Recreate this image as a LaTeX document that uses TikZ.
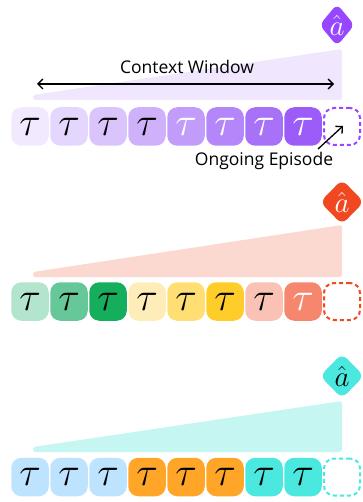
\RequirePackage{fix-cm}
\documentclass[tikz,border=0pt]{standalone}
\usepackage{fontspec}
\setmainfont{Open Sans}
\usetikzlibrary{arrows.meta,shapes.geometric}
\definecolor{pA}{HTML}{F1E9FE}
\definecolor{pB}{HTML}{E5D6FD}
\definecolor{pC}{HTML}{DAC4FC}
\definecolor{pD}{HTML}{CFB1FB}
\definecolor{pE}{HTML}{C29CFA}
\definecolor{pF}{HTML}{B486F9}
\definecolor{pG}{HTML}{A771F8}
\definecolor{pH}{HTML}{9B5CF7}
\definecolor{pMain}{HTML}{9747FF}
\definecolor{pWedge}{HTML}{F0E7FE}
\definecolor{gA}{HTML}{B2E5CC}
\definecolor{gB}{HTML}{66C898}
\definecolor{gC}{HTML}{14AE5C}
\definecolor{yA}{HTML}{FFEDB9}
\definecolor{yB}{HTML}{FFDE73}
\definecolor{yC}{HTML}{FFCD29}
\definecolor{sA}{HTML}{FAC2B5}
\definecolor{sB}{HTML}{F7866E}
\definecolor{rMain}{HTML}{F24822}
\definecolor{rWedge}{HTML}{FBD9D1}
\definecolor{bA}{HTML}{BDE3FF}
\definecolor{oA}{HTML}{FFA629}
\definecolor{cA}{HTML}{4AE8DF}
\definecolor{cWedge}{HTML}{C6F6F2}
\tikzset{
  tok/.style={rectangle, rounded corners=10pt, minimum width=37.5pt, minimum height=38.5pt, inner sep=0pt, font=\fontsize{40}{40}\selectfont},
  slot/.style={rectangle, rounded corners=10pt, minimum width=36pt, minimum height=37pt, inner sep=0pt, draw, line width=2pt, dash pattern=on 4pt off 3pt, fill=white},
  diam/.style={diamond, rounded corners=7pt, minimum width=44pt, minimum height=45pt, inner sep=0pt},
  ahat/.style={font=\fontsize{29}{29}\selectfont, inner sep=0pt},
  lbl/.style={font=\fontsize{17.5}{19}\selectfont, inner sep=0pt},
  wedge/.style={rounded corners=2.5pt},
  arr/.style={line width=1.3pt, -{Straight Barb[angle=90:7pt]}},
}
\begin{document}
\begin{tikzpicture}[x=1pt,y=-1pt]
\useasboundingbox (0,0) rectangle (362,502);
% ---------- Row 1 ----------
\fill[pWedge, wedge] (33,100) -- (33,95) -- (342,49) -- (342,100) -- cycle;
\node[tok, fill=pA] (a1) at (30,126.5) {$\tau$};
\node[tok, fill=pB] (a2) at (69,126.5) {$\tau$};
\node[tok, fill=pC] (a3) at (108,126.5) {$\tau$};
\node[tok, fill=pD] (a4) at (147,126.5) {$\tau$};
\node[tok, fill=pE, text=white] (a5) at (186,126.5) {$\tau$};
\node[tok, fill=pF, text=white] (a6) at (225,126.5) {$\tau$};
\node[tok, fill=pG, text=white] (a7) at (264,126.5) {$\tau$};
\node[tok, fill=pH, text=white] (a8) at (303,126.5) {$\tau$};
\node[slot, draw=pMain] (a9) at (342,126.5) {};
\node[diam, fill=pMain, minimum width=35pt, minimum height=42pt, rounded corners=6pt] (da) at (337,25) {};
\node[ahat, text=white] (ha) at (da.center) {$\hat{a}$};
\coordinate (cwl) at (37,84);
\coordinate (cwr) at (334,84);
\draw[line width=1.3pt, {Straight Barb[angle=90:7pt]}-{Straight Barb[angle=90:7pt]}] (cwl) -- (cwr);
\node[lbl] (cw) at (187,67) {Context Window};
\node[lbl] (oe) at (264,160.5) {Ongoing Episode};
\coordinate (oes) at (318,149);
\coordinate (oee) at (343,126);
\draw[arr] (oes) -- (oee);
% ---------- Row 2 ----------
\fill[rWedge, wedge] (33,277) -- (33,272) -- (342,225) -- (342,277) -- cycle;
\node[tok, fill=gA] (b1) at (30,301.5) {$\tau$};
\node[tok, fill=gB] (b2) at (69,301.5) {$\tau$};
\node[tok, fill=gC] (b3) at (108,301.5) {$\tau$};
\node[tok, fill=yA] (b4) at (147,301.5) {$\tau$};
\node[tok, fill=yB] (b5) at (186,301.5) {$\tau$};
\node[tok, fill=yC] (b6) at (225,301.5) {$\tau$};
\node[tok, fill=sA] (b7) at (264,301.5) {$\tau$};
\node[tok, fill=sB, text=white] (b8) at (303,301.5) {$\tau$};
\node[slot, draw=rMain] (b9) at (342,301.5) {};
\node[diam, fill=rMain] (db) at (342,202) {};
\node[ahat, text=white] (hb) at (db.center) {$\hat{a}$};
% ---------- Row 3 ----------
\fill[cWedge, wedge] (33,452) -- (33,447) -- (342,401) -- (342,452) -- cycle;
\node[tok, fill=bA] (c1) at (30,477) {$\tau$};
\node[tok, fill=bA] (c2) at (69,477) {$\tau$};
\node[tok, fill=bA] (c3) at (108,477) {$\tau$};
\node[tok, fill=oA] (c4) at (147,477) {$\tau$};
\node[tok, fill=oA] (c5) at (186,477) {$\tau$};
\node[tok, fill=oA] (c6) at (225,477) {$\tau$};
\node[tok, fill=cA] (c7) at (264,477) {$\tau$};
\node[tok, fill=cA] (c8) at (303,477) {$\tau$};
\node[slot, draw=cA] (c9) at (342,477) {};
\node[diam, fill=cA] (dc) at (342,376) {};
\node[ahat, text=black] (hc) at (dc.center) {$\hat{a}$};
\end{tikzpicture}
\end{document}
